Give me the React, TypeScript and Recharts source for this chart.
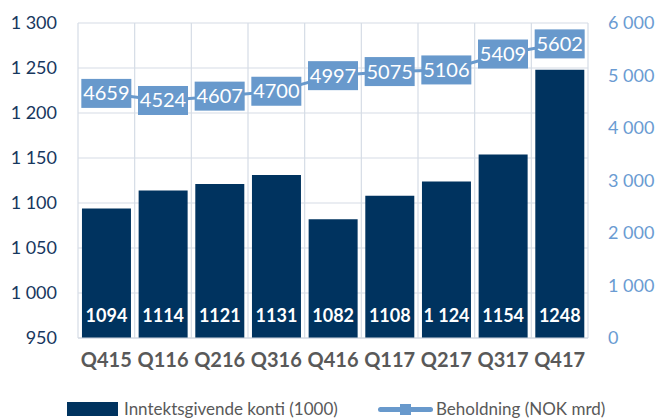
import { ComposedChart, Bar, Line, XAxis, YAxis, CartesianGrid, LabelList } from 'recharts'

const quarters = ['Q415', 'Q116', 'Q216', 'Q316', 'Q416', 'Q117', 'Q217', 'Q317', 'Q417']
const accounts = [1094, 1114, 1121, 1131, 1082, 1108, 1124, 1154, 1248]
const accountLabels = ['1094', '1114', '1121', '1131', '1082', '1108', '1 124', '1154', '1248']
const holdings = [4659, 4524, 4607, 4700, 4997, 5075, 5106, 5409, 5602]
const leftTicks = [950, 1000, 1050, 1100, 1150, 1200, 1250, 1300]
const rightTicks = [0, 1000, 2000, 3000, 4000, 5000, 6000]
const gridTicks = [0, 1, 2, 3, 4, 5, 6, 7, 8, 9]

const data = quarters.map((q, i) => ({
  q,
  idx: i + 0.5,
  accounts: accounts[i],
  accountLabel: accountLabels[i],
  holdings: holdings[i],
}))

const FONT = 'Lato, "Open Sans", sans-serif'
const NAVY = '#00335f'
const LIGHT = '#6899cc'

const spaced = (v: number) => String(v).replace(/\B(?=(\d{3})+(?!\d))/g, ' ')

function HoldingLabel(props: any) {
  const { x, y, value } = props
  const w = 50
  const h = 29
  return (
    <g>
      <rect x={x - w / 2} y={y - h / 2} width={w} height={h} fill={LIGHT} />
      <text x={x} y={y + 7} textAnchor="middle" fill="#fff" fontSize={20} fontFamily={FONT}>
        {value}
      </text>
    </g>
  )
}

export default function App() {
  return (
    <div style={{ position: 'absolute', left: 0, top: 0, width: 658, height: 418, overflow: 'hidden', background: '#fff', fontFamily: FONT }}>
      <ComposedChart width={658} height={418} data={data} margin={{ top: 23, right: 0, left: 0, bottom: 0 }} barCategoryGap="7%">
        <XAxis xAxisId="grid" type="number" dataKey="idx" domain={[0, 9]} ticks={gridTicks} hide />
        <CartesianGrid xAxisId="grid" yAxisId="left" stroke="#d5dce6" strokeWidth={1.2} />
        <XAxis
          dataKey="q"
          height={80}
          tickLine={false}
          tickSize={0}
          tickMargin={15}
          axisLine={{ stroke: '#d0d6df' }}
          tick={{ fontSize: 20, fontWeight: 700, fill: '#595959', fontFamily: FONT }}
          interval={0}
        />
        <YAxis
          yAxisId="left"
          width={78}
          domain={[950, 1300]}
          ticks={leftTicks}
          allowDataOverflow
          axisLine={false}
          tickLine={false}
          tickSize={0}
          tickMargin={21}
          tickFormatter={spaced}
          tick={{ fontSize: 18, fill: '#17375e', fontFamily: FONT }}
        />
        <YAxis
          yAxisId="right"
          orientation="right"
          width={70}
          domain={[0, 6000]}
          ticks={rightTicks}
          axisLine={false}
          tickLine={false}
          tickSize={0}
          tickMargin={20}
          tickFormatter={spaced}
          tick={{ fontSize: 18, fill: '#6a9bd2', fontFamily: FONT, textAnchor: 'start' }}
        />
        <Bar yAxisId="left" dataKey="accounts" fill={NAVY} isAnimationActive={false}>
          <LabelList
            dataKey="accountLabel"
            position="insideBottom"
            offset={16}
            fill="#fff"
            fontSize={18}
            fontWeight={700}
            fontFamily={FONT}
          />
        </Bar>
        <Line
          yAxisId="right"
          dataKey="holdings"
          stroke={LIGHT}
          strokeWidth={3}
          dot={false}
          isAnimationActive={false}
        >
          <LabelList dataKey="holdings" content={HoldingLabel} />
        </Line>
      </ComposedChart>
      <div style={{ position: 'absolute', left: 67, top: 398, display: 'flex', alignItems: 'center', fontSize: 17, color: '#595959', whiteSpace: 'nowrap' }}>
        <span style={{ display: 'inline-block', width: 51, height: 14, background: NAVY, marginRight: 6 }} />
        <span>Inntektsgivende konti (1000)</span>
      </div>
      <div style={{ position: 'absolute', left: 378, top: 398, display: 'flex', alignItems: 'center', fontSize: 17, color: '#595959', whiteSpace: 'nowrap' }}>
        <span style={{ position: 'relative', display: 'inline-block', width: 55, height: 14, marginRight: 3 }}>
          <span style={{ position: 'absolute', left: 0, top: 5, width: 55, height: 5, borderRadius: 3, background: LIGHT }} />
          <span style={{ position: 'absolute', left: 22, top: 2, width: 11, height: 11, background: LIGHT }} />
        </span>
        <span>Beholdning (NOK mrd)</span>
      </div>
    </div>
  )
}
